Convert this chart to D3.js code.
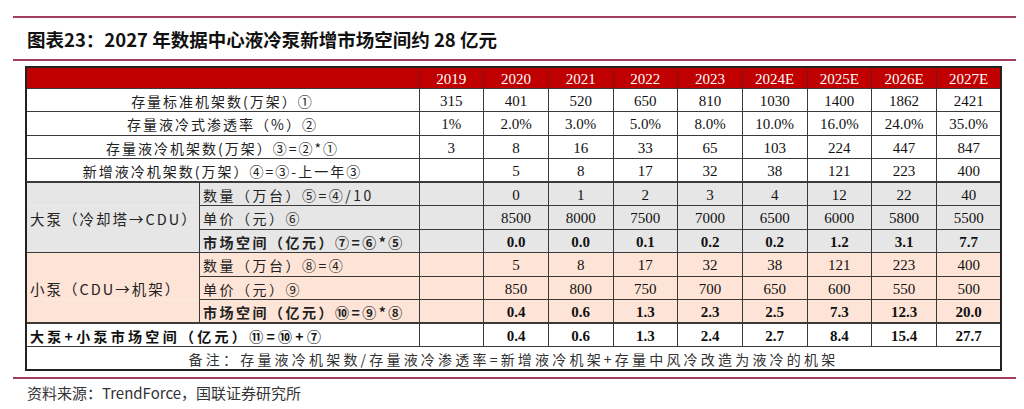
<!DOCTYPE html>
<html><head><meta charset="utf-8">
<script src="https://cdn.jsdelivr.net/npm/d3@7"></script>
<style>
html,body{margin:0;padding:0;background:#fff;}
svg{display:block;}
</style></head>
<body>
<svg id="c" width="1024" height="409"></svg>
<script>
// ---------- data ----------
const title = "图表23：2027 年数据中心液冷泵新增市场空间约 28 亿元";
const source = "资料来源：TrendForce，国联证券研究所";
const note = "备注：存量液冷机架数/存量液冷渗透率=新增液冷机架+存量中风冷改造为液冷的机架";
const years = ["2019","2020","2021","2022","2023","2024E","2025E","2026E","2027E"];
const rackStock = [315,401,520,650,810,1030,1400,1862,2421];
const penetration = [1,2,3,5,8,10,16,24,35];
const liquidRacks = [3,8,16,33,65,103,224,447,847];
const newRacks = [null,5,8,17,32,38,121,223,400];
const bigQty = [null,0,1,2,3,4,12,22,40];
const bigPrice = [null,8500,8000,7500,7000,6500,6000,5800,5500];
const bigMarket = [null,0.0,0.0,0.1,0.2,0.2,1.2,3.1,7.7];
const smallQty = [null,5,8,17,32,38,121,223,400];
const smallPrice = [null,850,800,750,700,650,600,550,500];
const smallMarket = [null,0.4,0.6,1.3,2.3,2.5,7.3,12.3,20.0];
const totalMarket = [null,0.4,0.6,1.3,2.4,2.7,8.4,15.4,27.7];

const rowLabels = ["存量标准机架数(万架）①","存量液冷式渗透率（%）②","存量液冷机架数(万架）③=②*①","新增液冷机架数(万架）④=③-上一年③"];
const groupLabels = ["大泵（冷却塔→CDU）","小泵（CDU→机架）"];
const subLabels = [["数量（万台）⑤=④/10","单价（元）⑥","市场空间（亿元）⑦=⑥*⑤"],
                   ["数量（万台）⑧=④","单价（元）⑨","市场空间（亿元）⑩=⑨*⑧"]];
const totalLabel = "大泵+小泵市场空间（亿元）⑪=⑩+⑦";

// ---------- layout ----------
const svg = d3.select("#c");
const L = 26, R = 1001, T = 67, HB = 88, B = 370;
const labelRight = 419, groupRight = 199;
const x = d3.scaleBand().domain(years).range([labelRight, R]);
const y = d3.scaleBand().domain(d3.range(12)).range([HB, B]);
const lineColor = "#3a3a3a";
const maroon = "#a23e5e";
const cjk = "'Noto Sans CJK SC', sans-serif";
const serif = "'Liberation Serif', 'Times New Roman', serif";

const pctFmt = (v,i) => i===0 ? v+"%" : v.toFixed(1)+"%";
const f1 = v => d3.format(".1f")(v);
const rows = [
  {vals: rackStock, fmt: v=>v, bold:false, bg:"#fff"},
  {vals: penetration, fmt: pctFmt, bold:false, bg:"#fff"},
  {vals: liquidRacks, fmt: v=>v, bold:false, bg:"#fff"},
  {vals: newRacks, fmt: v=>v, bold:false, bg:"#fff"},
  {vals: bigQty, fmt: v=>v, bold:false, bg:"#e7e6e6"},
  {vals: bigPrice, fmt: v=>v, bold:false, bg:"#e7e6e6"},
  {vals: bigMarket, fmt: f1, bold:true, bg:"#e7e6e6"},
  {vals: smallQty, fmt: v=>v, bold:false, bg:"#fde4d6"},
  {vals: smallPrice, fmt: v=>v, bold:false, bg:"#fde4d6"},
  {vals: smallMarket, fmt: f1, bold:true, bg:"#fde4d6"},
  {vals: totalMarket, fmt: f1, bold:true, bg:"#fff"}
];

// top rules and title
svg.append("line").attr("x1",13).attr("x2",1016).attr("y1",17).attr("y2",17).attr("stroke",maroon).attr("stroke-width",2);
svg.append("line").attr("x1",13).attr("x2",1016).attr("y1",60).attr("y2",60).attr("stroke",maroon).attr("stroke-width",2);
svg.append("text").attr("x",27).attr("y",39).attr("dominant-baseline","central")
  .attr("font-family",cjk).attr("font-weight","bold").attr("font-size",18.5).attr("fill","#111").text(title);

// backgrounds
svg.append("rect").attr("x",L).attr("y",T).attr("width",R-L).attr("height",HB-T).attr("fill","#c00000");
rows.forEach((r,i)=>{
  svg.append("rect").attr("x",L).attr("y",y(i)).attr("width",R-L).attr("height",y.bandwidth()).attr("fill",r.bg);
});

// header text
svg.selectAll("text.yr").data(years).join("text").attr("class","yr")
  .attr("x",d=>x(d)+x.bandwidth()/2).attr("y",(T+HB)/2+1).attr("text-anchor","middle").attr("dominant-baseline","central")
  .attr("font-family",serif).attr("font-size",15).attr("fill","#fff").text(d=>d);

// cell values
rows.forEach((r,i)=>{
  svg.append("g").selectAll("text").data(r.vals.map((v,j)=>({v,j})).filter(d=>d.v!==null)).join("text")
    .attr("x",d=>x(years[d.j])+x.bandwidth()/2).attr("y",y(i)+y.bandwidth()/2+1)
    .attr("text-anchor","middle").attr("dominant-baseline","central")
    .attr("font-family",serif).attr("font-size",15).attr("font-weight",r.bold?"bold":"normal").attr("fill","#111")
    .text(d=>r.fmt(d.v,d.j));
});

// row labels (first 4)
rowLabels.forEach((t,i)=>{
  svg.append("text").attr("x",(L+labelRight)/2).attr("y",y(i)+y.bandwidth()/2+1)
    .attr("text-anchor","middle").attr("dominant-baseline","central")
    .attr("font-family",cjk).attr("font-size",14).attr("letter-spacing",2).attr("fill","#222").text(t);
});
// group labels
groupLabels.forEach((t,g)=>{
  const y0 = y(4+g*3), y1 = y(6+g*3)+y.bandwidth();
  svg.append("text").attr("x",L+4).attr("y",(y0+y1)/2+1).attr("dominant-baseline","central")
    .attr("font-family",cjk).attr("font-size",14.5).attr("letter-spacing",2).attr("fill","#222").text(t);
  subLabels[g].forEach((s,k)=>{
    svg.append("text").attr("x",groupRight+4).attr("y",y(4+g*3+k)+y.bandwidth()/2+1).attr("dominant-baseline","central")
      .attr("font-family",cjk).attr("font-size",14).attr("letter-spacing",2.5)
      .attr("font-weight",k===2?"bold":"normal").attr("fill","#222").text(s);
  });
});
svg.append("text").attr("x",L+4).attr("y",y(10)+y.bandwidth()/2+1).attr("dominant-baseline","central")
  .attr("font-family",cjk).attr("font-size",14).attr("letter-spacing",3.3).attr("font-weight","bold").attr("fill","#111").text(totalLabel);
svg.append("text").attr("x",(L+R)/2).attr("y",y(11)+y.bandwidth()/2+1).attr("text-anchor","middle").attr("dominant-baseline","central")
  .attr("font-family",cjk).attr("font-size",14).attr("letter-spacing",3.2).attr("fill","#333").text(note);

// grid lines
const g = svg.append("g").attr("stroke",lineColor).attr("shape-rendering","crispEdges");
for(let i=1;i<=11;i++){
  const yy = y(i);
  const inner = (i===5||i===6||i===8||i===9);
  const thick = (i===4||i===7||i===10||i===11);
  g.append("line").attr("x1",inner?groupRight:L).attr("x2",R).attr("y1",yy).attr("y2",yy).attr("stroke-width",thick?1.5:1);
}
g.append("line").attr("x1",L).attr("x2",R).attr("y1",HB).attr("y2",HB).attr("stroke-width",1);
years.forEach(d=>{
  g.append("line").attr("x1",x(d)).attr("x2",x(d)).attr("y1",HB).attr("y2",y(10)+y.bandwidth()).attr("stroke-width",1);
});
years.forEach(d=>{
  svg.append("line").attr("x1",x(d)).attr("x2",x(d)).attr("y1",T).attr("y2",HB).attr("stroke","#7a1515").attr("stroke-width",1).attr("shape-rendering","crispEdges");
});
g.append("line").attr("x1",groupRight).attr("x2",groupRight).attr("y1",y(4)).attr("y2",y(9)+y.bandwidth()).attr("stroke-width",1);
// outer border
svg.append("rect").attr("x",L).attr("y",T).attr("width",R-L).attr("height",B-T).attr("fill","none").attr("stroke","#222").attr("stroke-width",2);

// bottom rule and source
svg.append("line").attr("x1",13).attr("x2",1016).attr("y1",378).attr("y2",378).attr("stroke",maroon).attr("stroke-width",2);
svg.append("text").attr("x",27).attr("y",392).attr("dominant-baseline","central")
  .attr("font-family",cjk).attr("font-size",15).attr("fill","#333").text(source);
</script>
</body></html>
